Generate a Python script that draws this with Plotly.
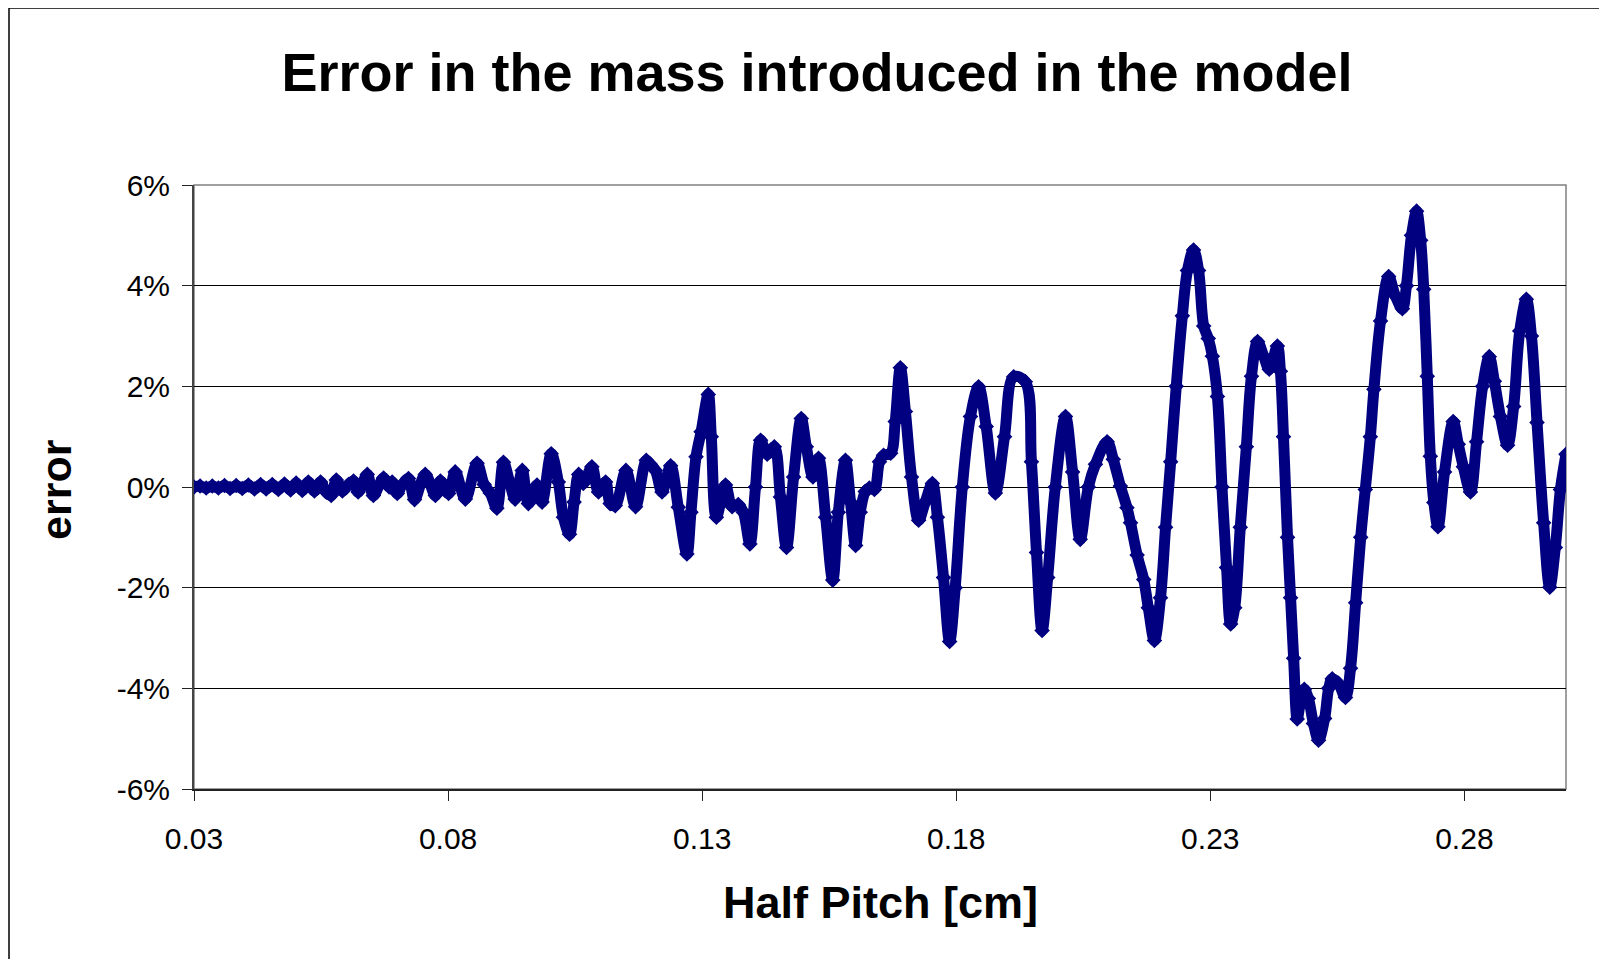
import plotly.graph_objects as go

# ---- data ----
half_pitch_cm = [
    0.0300, 0.0312, 0.0324, 0.0336, 0.0348, 0.0360, 0.0371, 0.0383, 0.0395, 0.0407,
    0.0419, 0.0431, 0.0442, 0.0454, 0.0466, 0.0478, 0.0490, 0.0501, 0.0513, 0.0525,
    0.0537, 0.0549, 0.0560, 0.0570, 0.0580, 0.0592, 0.0604, 0.0614, 0.0623, 0.0641,
    0.0653, 0.0673, 0.0684, 0.0690, 0.0700, 0.0710, 0.0722, 0.0734, 0.0755, 0.0775,
    0.0785, 0.0801, 0.0814, 0.0834, 0.0857, 0.0871, 0.0883, 0.0896, 0.0909, 0.0921,
    0.0932, 0.0946, 0.0958, 0.0975, 0.0985, 0.1003, 0.1017, 0.1027, 0.1039, 0.1048,
    0.1057, 0.1066, 0.1083, 0.1096, 0.1110, 0.1119, 0.1129, 0.1150, 0.1169, 0.1190,
    0.1198, 0.1208, 0.1221, 0.1238, 0.1253, 0.1270, 0.1278, 0.1288, 0.1298, 0.1312,
    0.1318, 0.1328, 0.1346, 0.1359, 0.1371, 0.1381, 0.1394, 0.1405, 0.1415, 0.1428,
    0.1442, 0.1454, 0.1466, 0.1480, 0.1495, 0.1505, 0.1518, 0.1529, 0.1543, 0.1557,
    0.1568, 0.1582, 0.1592, 0.1602, 0.1611, 0.1621, 0.1629, 0.1639, 0.1649, 0.1657,
    0.1671, 0.1680, 0.1690, 0.1700, 0.1712, 0.1726, 0.1739, 0.1753, 0.1763, 0.1775,
    0.1787, 0.1798, 0.1812, 0.1828, 0.1844, 0.1859, 0.1877, 0.1895, 0.1913, 0.1936,
    0.1948, 0.1958, 0.1969, 0.1980, 0.1995, 0.2015, 0.2029, 0.2044, 0.2060, 0.2074,
    0.2097, 0.2109, 0.2123, 0.2136, 0.2143, 0.2156, 0.2169, 0.2178, 0.2190, 0.2202,
    0.2212, 0.2222, 0.2233, 0.2245, 0.2255, 0.2267, 0.2277, 0.2287, 0.2296, 0.2304,
    0.2314, 0.2323, 0.2332, 0.2340, 0.2348, 0.2359, 0.2371, 0.2381, 0.2393, 0.2405,
    0.2416, 0.2432, 0.2438, 0.2444, 0.2452, 0.2458, 0.2464, 0.2471, 0.2477, 0.2485,
    0.2493, 0.2503, 0.2513, 0.2525, 0.2533, 0.2540, 0.2552, 0.2566, 0.2576, 0.2586,
    0.2596, 0.2605, 0.2615, 0.2622, 0.2635, 0.2651, 0.2664, 0.2678, 0.2686, 0.2696,
    0.2706, 0.2714, 0.2720, 0.2727, 0.2733, 0.2740, 0.2748, 0.2761, 0.2778, 0.2788,
    0.2798, 0.2812, 0.2824, 0.2836, 0.2849, 0.2859, 0.2871, 0.2885, 0.2897, 0.2909,
    0.2922, 0.2932, 0.2943, 0.2956, 0.2968, 0.2979, 0.2989, 0.3000,
]

mass_error_pct = [
    0.00, 0.02, -0.02, 0.02, -0.02, 0.03, -0.03, 0.03, -0.03, 0.04,
    -0.04, 0.05, -0.04, 0.05, -0.05, 0.06, -0.06, 0.08, -0.07, 0.10,
    -0.08, 0.10, -0.10, -0.17, 0.14, -0.08, 0.05, 0.12, -0.10, 0.25,
    -0.17, 0.18, 0.00, 0.10, -0.13, 0.05, 0.17, -0.25, 0.25, -0.17,
    0.12, -0.13, 0.30, -0.24, 0.47, 0.05, -0.12, -0.42, 0.49, 0.10,
    -0.24, 0.33, -0.33, 0.04, -0.30, 0.66, 0.10, -0.60, -0.94, -0.30,
    0.25, 0.07, 0.40, -0.10, 0.10, -0.33, -0.37, 0.33, -0.39, 0.53,
    0.45, 0.33, -0.10, 0.42, -0.40, -1.33, -0.50, 0.60, 1.10, 1.84,
    1.00, -0.60, 0.04, -0.39, -0.35, -0.50, -1.13, 0.00, 0.93, 0.65,
    0.80, -0.20, -1.20, 0.20, 1.36, 0.80, 0.20, 0.57, -0.60, -1.85,
    -0.50, 0.53, -0.30, -1.16, -0.50, -0.09, -0.02, -0.05, 0.50, 0.63,
    0.67, 1.30, 2.37, 1.50, 0.20, -0.66, -0.30, 0.07, -0.60, -1.80,
    -3.07, -2.00, 0.00, 1.40, 1.99, 1.20, -0.12, 1.00, 2.19, 2.09,
    0.50, -1.30, -2.85, -1.80, 0.00, 1.40, 0.30, -1.04, 0.00, 0.45,
    0.90, 0.55, 0.02, -0.41, -0.71, -1.35, -1.84, -2.40, -3.05, -2.20,
    -0.80, 0.50, 2.00, 3.40, 4.30, 4.71, 4.30, 3.20, 2.95, 2.60,
    1.80, 0.00, -1.60, -2.72, -2.40, -0.80, 0.80, 2.20, 2.89, 2.60,
    2.34, 2.80, 2.30, 1.00, -1.00, -2.20, -3.40, -4.61, -4.30, -4.02,
    -4.20, -4.70, -5.03, -4.60, -4.00, -3.81, -3.90, -4.18, -3.60, -2.30,
    -1.00, -0.05, 1.00, 1.94, 3.30, 4.18, 3.80, 3.54, 4.00, 5.00,
    5.48, 4.90, 3.93, 2.20, 0.61, -0.31, -0.79, 0.30, 1.30, 0.85,
    0.40, -0.10, 0.90, 2.00, 2.59, 2.10, 1.40, 0.83, 1.60, 3.10,
    3.73, 3.00, 1.28, -0.71, -1.99, -1.20, -0.05, 0.65,
]

x_tick_vals = [0.03, 0.08, 0.13, 0.18, 0.23, 0.28]
x_tick_text = ["0.03", "0.08", "0.13", "0.18", "0.23", "0.28"]
y_tick_vals = [-6, -4, -2, 0, 2, 4, 6]
y_tick_text = ["-6%", "-4%", "-2%", "0%", "2%", "4%", "6%"]

title_text = "Error in the mass introduced in the model"
x_title = "Half Pitch [cm]"
y_title = "error"

# ---- layout constants (figure sits 8px inside the page because of body margin) ----
W, H = 1599, 951
ML, MR, MT, MB = 186, 41, 177, 170
PW, PH = W - ML - MR, H - MT - MB
FONT = "Liberation Sans, Arial, sans-serif"
NAVY = "#000080"


def px_to_paper_x(px):
    return (px - ML) / PW


def px_to_paper_y(py):
    return (H - MB - py) / PH


fig = go.Figure()
fig.add_trace(go.Scatter(
    x=half_pitch_cm, y=mass_error_pct,
    mode="lines+markers",
    line=dict(color=NAVY, width=11, shape="spline", smoothing=1.0),
    marker=dict(symbol="diamond", size=12, color=NAVY),
    showlegend=False, hoverinfo="x+y",
))

fig.update_layout(
    width=W, height=H,
    margin=dict(l=ML, r=MR, t=MT, b=MB, pad=0),
    paper_bgcolor="white", plot_bgcolor="white",
    font=dict(family=FONT, color="black", size=30),
    title=dict(
        text=title_text, xref="container", yref="container",
        x=809 / W, xanchor="center", y=1 - 64 / H, yanchor="middle",
        font=dict(family=FONT, size=54, color="black", weight="bold"),
    ),
    xaxis=dict(
        range=[0.03, 0.30], tickvals=x_tick_vals, ticktext=x_tick_text,
        showgrid=False, zeroline=False,
        showline=True, linecolor="#222222", linewidth=2,
        ticks="outside", ticklen=10, tickcolor="#222222", tickwidth=1,
        ticklabelstandoff=12,
        tickfont=dict(family=FONT, size=30, color="black"),
    ),
    yaxis=dict(
        range=[-6, 6], tickvals=y_tick_vals, ticktext=y_tick_text,
        showgrid=True, gridcolor="black", gridwidth=1,
        zeroline=True, zerolinecolor="black", zerolinewidth=1,
        showline=True, linecolor="#444444", linewidth=2,
        ticks="outside", ticklen=10, tickcolor="#222222", tickwidth=1,
        ticklabelstandoff=6,
        tickfont=dict(family=FONT, size=30, color="black"),
    ),
    annotations=[
        dict(text=x_title, xref="paper", yref="paper", x=0.5, y=0,
             xanchor="center", yanchor="middle", yshift=-113, showarrow=False,
             font=dict(family=FONT, size=45, color="black", weight="bold")),
        dict(text=y_title, xref="paper", yref="paper", x=0, y=0.5,
             xanchor="center", yanchor="middle", xshift=-138, yshift=-3,
             textangle=-90, showarrow=False,
             font=dict(family=FONT, size=43, color="black", weight="bold")),
    ],
    shapes=[
        dict(type="rect", xref="paper", yref="paper", x0=0, x1=1, y0=0, y1=1,
             line=dict(color="#808080", width=1.5), layer="below"),
        dict(type="rect", xref="paper", yref="paper",
             x0=px_to_paper_x(1), x1=px_to_paper_x(1596),
             y0=px_to_paper_y(980), y1=px_to_paper_y(0),
             line=dict(color="black", width=1.5), layer="below"),
    ],
)

fig.write_html("out.html")
